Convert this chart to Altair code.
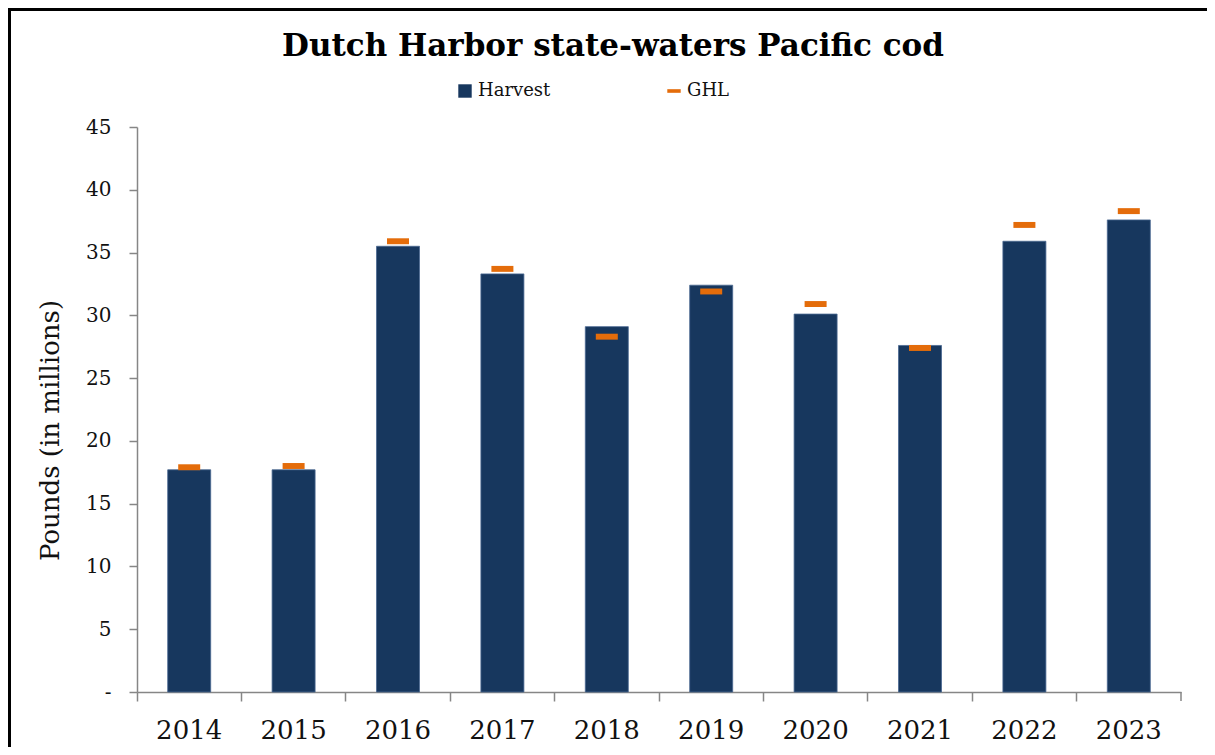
import altair as alt
import pandas as pd

# ---- data ----
years = ["2014", "2015", "2016", "2017", "2018", "2019", "2020", "2021", "2022", "2023"]
harvest = [17.7, 17.7, 35.5, 33.3, 29.1, 32.4, 30.1, 27.6, 35.9, 37.6]
ghl = [17.9, 18.0, 35.9, 33.7, 28.3, 31.9, 30.9, 27.4, 37.2, 38.3]
series = ["Harvest", "GHL"]
y_ticks = [0, 5, 10, 15, 20, 25, 30, 35, 40, 45]

df = pd.DataFrame({"year": years, "harvest": harvest, "ghl": ghl})

NAVY = "#17375E"
ORANGE = "#E46C0A"
AXIS_GREY = "#868686"
SERIF = "DejaVu Serif"
DASH = "M-1,-0.27L1,-0.27L1,0.27L-1,0.27Z"

PW, PH = 1044, 565
PAD_L, PAD_T = 129, 119

color_scale = alt.Scale(domain=series, range=[NAVY, ORANGE])
shape_scale = alt.Scale(domain=series, range=["square", DASH])

legend = alt.Legend(
    title=None, orient="none", legendX=319, legendY=-45,
    direction="horizontal", columns=2, columnPadding=114,
    symbolSize=180, symbolStrokeWidth=0,
    labelFont=SERIF, labelFontSize=18, labelColor="#111111", labelOffset=4,
)

x_enc = alt.X(
    "year:N", title=None, sort=years,
    scale=alt.Scale(paddingInner=0, paddingOuter=0),
    axis=alt.Axis(
        bandPosition=0, labelAngle=0,
        labelFont=SERIF, labelFontSize=26, labelColor="#111111", labelPadding=16,
        tickSize=9, tickColor=AXIS_GREY, tickWidth=1.5,
        domainColor=AXIS_GREY, domainWidth=1.5, grid=False,
    ),
)

y_axis = alt.Axis(
    values=y_ticks, grid=False,
    labelExpr="datum.value == 0 ? '-\u00a0\u00a0' : datum.label",
    labelFont=SERIF, labelFontSize=20, labelColor="#111111", labelPadding=18,
    tickSize=8, tickColor=AXIS_GREY, tickWidth=1.5,
    domainColor=AXIS_GREY, domainWidth=1.5,
    title="Pounds (in millions)", titleFont=SERIF, titleFontSize=26,
    titleFontWeight="normal", titleColor="#111111",
    titleX=-87, titleY=303, titleBaseline="middle", titleAlign="center",
)
y_scale = alt.Scale(domain=[0, 45], nice=False)

bars = alt.Chart(df).transform_calculate(series="'Harvest'").mark_bar(
    size=43, stroke="#4a6890", strokeWidth=0.8
).encode(
    x=x_enc,
    y=alt.Y("harvest:Q", scale=y_scale, axis=y_axis),
    color=alt.Color("series:N", scale=color_scale, legend=legend),
)

ghl_marks = alt.Chart(df).transform_calculate(series="'GHL'").mark_point(
    filled=True, opacity=1, size=484, strokeWidth=0
).encode(
    x=x_enc,
    y=alt.Y("ghl:Q", scale=y_scale, axis=y_axis),
    color=alt.Color("series:N", scale=color_scale, legend=legend),
    shape=alt.Shape("series:N", scale=shape_scale, legend=legend),
)

deco = alt.Data(values=[{"f": 1}])
frame_top = alt.Chart(deco).mark_rule(color="black", strokeWidth=3).encode(
    x=alt.value(-PAD_L), x2=alt.value(PW + 40), y=alt.value(-PAD_T + 1.5)
)
frame_left = alt.Chart(deco).mark_rule(color="black", strokeWidth=3).encode(
    x=alt.value(-PAD_L + 1.5), y=alt.value(-PAD_T), y2=alt.value(PH + 80)
)
# closing tick at the right end of the category axis
end_tick = alt.Chart(deco).mark_rule(color=AXIS_GREY, strokeWidth=1.5).encode(
    x=alt.value(PW), y=alt.value(PH), y2=alt.value(PH + 9)
)

chart = alt.layer(bars, ghl_marks, frame_top, frame_left, end_tick).properties(
    width=PW, height=PH,
    autosize=alt.AutoSizeParams(type="none"),
    padding={"left": PAD_L, "top": PAD_T, "right": 26, "bottom": 55},
    title=alt.TitleParams(
        "Dutch Harbor state-waters Pacific cod",
        font=SERIF, fontSize=31, fontWeight="bold", color="black",
        anchor="middle", offset=0, baseline="bottom", dy=87, dx=-46,
    ),
    background="white",
).configure_view(stroke=None)

chart.save("out.html", embed_options={"renderer": "svg", "actions": False})
